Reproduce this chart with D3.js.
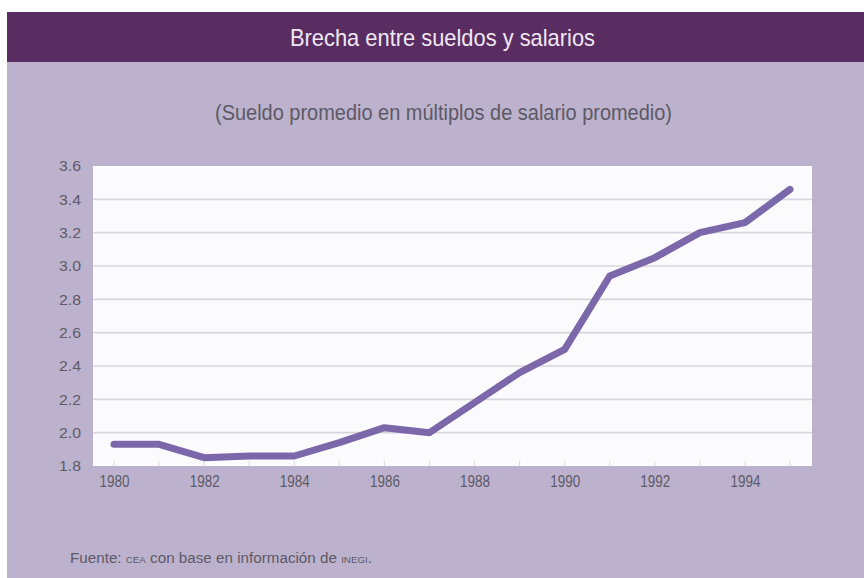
<!DOCTYPE html>
<html lang="es">
<head>
<meta charset="UTF-8">
<title>Brecha entre sueldos y salarios</title>
<style>
  body { margin: 0; padding: 0; background: #ffffff; overflow: hidden; }
  svg { display: block; }
  .cond { font-family: "Liberation Sans", Arial, sans-serif; }
</style>
<script src="https://d3js.org/d3.v7.min.js"></script>
</head>
<body>
<div id="chart"></div>
<script>
  // data
  const years = [1980, 1981, 1982, 1983, 1984, 1985, 1986, 1987, 1988, 1989, 1990, 1991, 1992, 1993, 1994, 1995];
  const ratio = [1.93, 1.93, 1.85, 1.86, 1.86, 1.94, 2.03, 2.00, 2.18, 2.36, 2.50, 2.94, 3.05, 3.20, 3.26, 3.46];
  const yTicks = [1.8, 2.0, 2.2, 2.4, 2.6, 2.8, 3.0, 3.2, 3.4, 3.6];
  const xTickLabels = [1980, 1982, 1984, 1986, 1988, 1990, 1992, 1994];

  const width = 864, height = 578;
  const plot = { left: 93, right: 812, top: 166, bottom: 466 };

  const svg = d3.select("#chart").append("svg")
      .attr("width", width)
      .attr("height", height);

  // panel background
  svg.append("rect")
      .attr("x", 7).attr("y", 12)
      .attr("width", width - 7).attr("height", height - 12)
      .attr("fill", "#bcb2cd");

  // title bar
  svg.append("rect")
      .attr("x", 7).attr("y", 12)
      .attr("width", width - 7).attr("height", 50)
      .attr("fill", "#5a2d62");

  // narrow look: fixed text lengths squeeze the glyphs
  svg.append("text")
      .attr("class", "cond")
      .attr("x", 290).attr("y", 46)
      .attr("textLength", 305)
      .attr("lengthAdjust", "spacingAndGlyphs")
      .attr("fill", "#efe8f2")
      .style("font-size", "24px")
      .text("Brecha entre sueldos y salarios");

  svg.append("text")
      .attr("class", "cond")
      .attr("x", 215).attr("y", 120)
      .attr("textLength", 457)
      .attr("lengthAdjust", "spacingAndGlyphs")
      .attr("fill", "#5c5a66")
      .style("font-size", "22px")
      .text("(Sueldo promedio en múltiplos de salario promedio)");

  const x = d3.scaleLinear().domain([1980, 1995]).range([114, 790]);
  const y = d3.scaleLinear().domain([1.8, 3.6]).range([plot.bottom, plot.top]);

  // plot area
  svg.append("rect")
      .attr("x", plot.left).attr("y", plot.top)
      .attr("width", plot.right - plot.left)
      .attr("height", plot.bottom - plot.top)
      .attr("fill", "#fbfbfd");

  // horizontal grid
  svg.append("g")
      .selectAll("line")
      .data(yTicks.filter(d => d > 1.8 && d < 3.6))
      .join("line")
      .attr("x1", plot.left).attr("x2", plot.right)
      .attr("y1", d => y(d)).attr("y2", d => y(d))
      .attr("stroke", "#d8d6dd")
      .attr("stroke-width", 1.6);

  // faint year ticks along the bottom
  svg.append("g")
      .selectAll("line")
      .data(years)
      .join("line")
      .attr("x1", d => x(d)).attr("x2", d => x(d))
      .attr("y1", plot.bottom - 5).attr("y2", plot.bottom)
      .attr("stroke", "#dcd9e2")
      .attr("stroke-width", 1);

  // y axis labels
  const yAxis = d3.axisLeft(y)
      .tickValues(yTicks)
      .tickFormat(d3.format(".1f"))
      .tickSize(0)
      .tickPadding(0);

  const yg = svg.append("g")
      .attr("transform", `translate(${81},0)`)
      .call(yAxis);
  yg.select(".domain").remove();
  yg.selectAll("text")
      .attr("class", "cond")
      .attr("fill", "#5e5a68")
      .attr("textLength", 22)
      .attr("lengthAdjust", "spacingAndGlyphs")
      .style("font-size", "15px");

  // x axis labels
  const xAxis = d3.axisBottom(x)
      .tickValues(xTickLabels)
      .tickFormat(d3.format("d"))
      .tickSize(0)
      .tickPadding(0);

  const xg = svg.append("g")
      .attr("transform", `translate(0,${475})`)
      .call(xAxis);
  xg.select(".domain").remove();
  xg.selectAll("text")
      .attr("class", "cond")
      .attr("fill", "#5e5a68")
      .attr("textLength", 30)
      .attr("lengthAdjust", "spacingAndGlyphs")
      .style("font-size", "17px");

  // the line
  const line = d3.line()
      .x((d, i) => x(years[i]))
      .y(d => y(d));

  svg.append("path")
      .datum(ratio)
      .attr("d", line)
      .attr("fill", "none")
      .attr("stroke", "#7b68aa")
      .attr("stroke-width", 7)
      .attr("stroke-linejoin", "round")
      .attr("stroke-linecap", "round");

  // source note
  const note = svg.append("text")
      .attr("class", "cond")
      .attr("x", 70).attr("y", 563)
      .attr("textLength", 302)
      .attr("lengthAdjust", "spacingAndGlyphs")
      .attr("fill", "#5c5a66")
      .style("font-size", "14px");
  note.append("tspan").text("Fuente: ");
  note.append("tspan").style("font-size", "9px").text("CEA");
  note.append("tspan").text(" con base en información de ");
  note.append("tspan").style("font-size", "9px").text("INEGI");
  note.append("tspan").text(".");
</script>
</body>
</html>
